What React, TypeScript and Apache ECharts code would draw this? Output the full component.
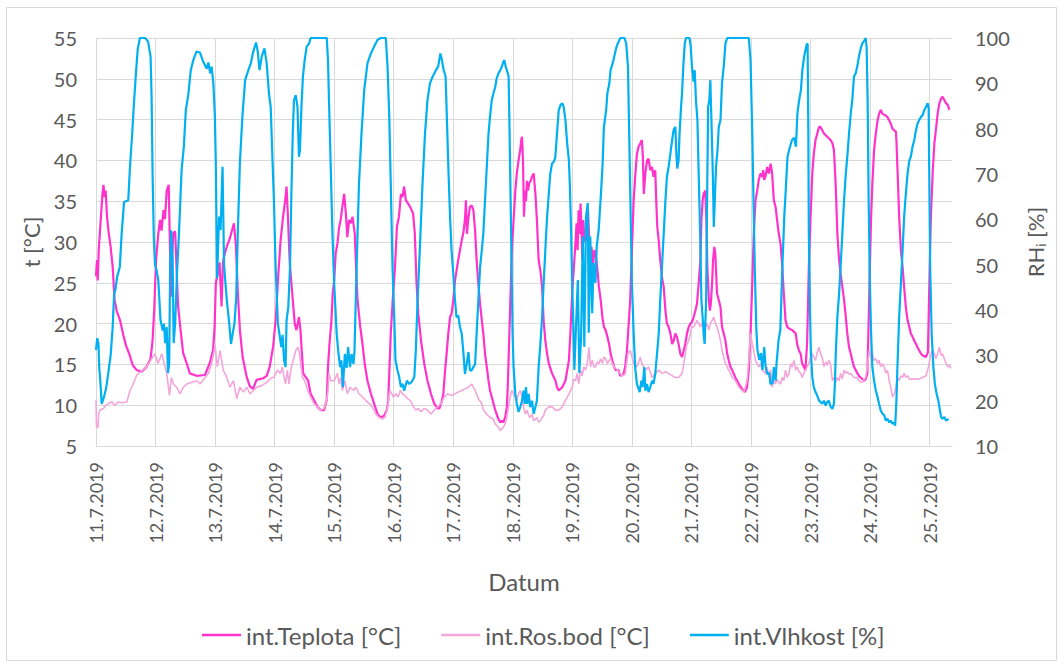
import { useEffect, useRef } from "react";
import * as echarts from "echarts";

// Day labels on the time axis (one per 24 h, starting 11.7.2019 00:00)
const dayLabels = [
  "11.7.2019", "12.7.2019", "13.7.2019", "14.7.2019", "15.7.2019",
  "16.7.2019", "17.7.2019", "18.7.2019", "19.7.2019", "20.7.2019",
  "21.7.2019", "22.7.2019", "23.7.2019", "24.7.2019", "25.7.2019",
];

const seriesNames = ["int.Teplota [°C]", "int.Ros.bod [°C]", "int.Vlhkost [%]"];

// Interior temperature [°C] as [hours since start, value]
const teplota: [number, number][] = [
  [0,25.8],[0.4,27.8],[0.7,25.3],[1.1,29],[1.9,32.7],[2.6,35.8],[3,37],[3.5,35.5],[3.9,36.3],[4.4,33.3],[5,31.4],[5.9,29.4],[6.7,27],[7.5,22.9],[8.3,21.6],[9.7,20.4],[11,18.6],[12.1,17.3],[13.4,16.3],[14.8,14.9],[16.4,14.3],[18.4,14.1],[20.4,14.7],[22,15.7],[22.8,17.9],[23.5,22],
  [24.2,27.8],[25.1,31],[25.8,32.7],[26.4,31.4],[27.2,33.9],[27.8,32.8],[28.5,36.3],[29.3,37],[29.8,29.5],[30.2,23.3],[31.1,31.1],[31.9,31.3],[32.7,25],[33.1,22.1],[34.1,19.2],[35.1,16.4],[36.5,15.2],[37.8,13.9],[40.5,13.6],[43.9,13.7],[45.9,15.2],[47.2,16.8],[47.8,19.5],
  [48.3,25],[49.2,26.2],[49.8,27.5],[50.6,22.1],[51.2,27.6],[52.1,28.8],[52.9,29.6],[53.9,30.4],[55.6,32.3],[56.4,29.5],[57.1,24.1],[58,19.2],[59.1,15.9],[60.7,13.5],[62,12.3],[63.3,12],[64.7,13.1],[66,13.2],[67.4,13.3],[68.8,13.6],[70,14.7],[71.4,17.2],
  [72.5,20.8],[73.4,25.7],[74.4,30.2],[75.4,33.1],[76.3,35.2],[76.8,36.8],[77.3,33.5],[78.1,27.4],[79.2,23.3],[80.1,20],[80.8,19.2],[81.8,20.8],[82.4,19.2],[83.5,13.9],[85.5,13],[86.5,11.4],[87.9,10.6],[89.2,9.8],[90.6,9.4],[91.9,9.4],[93,10.6],[93.5,14.7],[94.1,17.5],[94.9,20.4],[95.4,23.7],
  [96,25.3],[96.6,28.6],[97.3,29.8],[98,31.8],[98.6,32.7],[99.3,34.3],[100,35.9],[100.7,33.5],[101.3,30.6],[102,32.7],[102.7,32.3],[103.4,33.1],[104.3,31],[104.8,26.9],[105.4,22.9],[106.5,19.6],[107.4,17.5],[108.3,15.1],[109.4,13],[110.8,11.4],[112.1,10.2],[113.5,8.9],[114.8,8.5],[116.1,8.7],[117.2,9.4],[117.8,10.6],[118.3,14.7],[118.8,18.8],[119.6,22.9],
  [120.5,26.9],[121.3,31.9],[122.1,33.1],[122.9,35.9],[123.5,35.5],[124.2,36.8],[124.9,35.1],[125.6,34.8],[126.6,34.3],[127.8,33.5],[128.5,31],[129.2,24.9],[129.9,21.2],[131,17.9],[132.3,15.1],[133.6,13],[135,11.4],[136.3,10.2],[137.7,9.6],[138.4,9.6],[139.3,10.4],[140,11.4],[140.6,13.9],[141.3,16.3],[142,18.8],[142.7,20.8],[143.3,21.2],
  [144,22.9],[144.7,25.3],[145.3,26.5],[146,27.8],[146.7,29],[147.4,30.2],[148,31],[148.7,32.7],[149.1,35.1],[149.5,31],[150,32.7],[150.7,34.3],[151.4,34.5],[152.1,33.9],[152.8,31.4],[153.4,27.8],[154.1,24.9],[154.8,22.4],[155.5,20.4],[156.1,18.8],[156.8,16.3],[157.5,14.7],[158.2,13],[158.8,11.8],[159.5,11],[160.2,10.2],[160.9,9.4],[161.5,8.9],[162.2,8.3],[162.9,7.9],[163.6,8.1],[164.2,7.9],[164.9,8.5],[165.6,9.8],[166,12.6],[166.4,16.7],[166.8,20.8],[167.2,24.9],[167.6,29],
  [168.3,32.7],[169,36.3],[169.6,38.4],[170.3,40],[171,41.3],[171.4,42.5],[171.7,42.9],[172.1,40],[172.5,33.1],[172.9,36.3],[173.3,35],[173.7,37.5],[174.1,36.3],[174.6,37.2],[175.2,37.5],[175.7,38],[176.4,38.4],[177.1,35.9],[177.7,32.7],[178.4,27.8],[179.1,26.5],[179.8,24.5],[180.4,20.4],[181.1,17.9],[181.8,16.3],[182.5,15.1],[183.8,13.9],[185.2,13],[185.8,12.2],[186.5,11.8],[187.9,12.2],[189.2,13],[190.6,15.5],[191.2,18.8],[191.9,23.7],
  [192.6,26.9],[193.3,30.2],[193.7,32.3],[194.1,29],[194.5,33.9],[194.9,31],[195.3,34.7],[195.7,31],[196,27.8],[196.4,32.7],[196.9,30],[197.4,31],[197.9,30.2],[198.3,33.9],[198.7,31],[199.3,27.4],[199.7,29.4],[200.3,26.9],[200.8,29],[201.4,28.6],[202,26.9],[202.7,24.5],[203.4,22.9],[204.1,20.8],[204.7,19.6],[205.4,19.2],[206.1,18.4],[206.8,17.5],[207.4,16.3],[208.1,15.5],[208.8,14.7],[209.5,14.3],[210.6,14.3],[211.3,13.6],[212.6,13.8],[213.3,14.7],[214,16.7],[214.7,20],[215.3,22.9],
  [216,29],[216.7,35.1],[217.3,38],[218,40.8],[218.7,41.7],[219.4,42.1],[220,42.5],[220.4,40.5],[220.8,35.9],[221.4,38.4],[222.1,40],[222.7,40.2],[223.4,38.8],[224.1,39.2],[224.7,38],[225.4,38.8],[225.8,35.1],[226.2,31.9],[226.8,30.2],[227.4,27.8],[228.1,25.7],[228.8,24.5],[229.5,21.6],[230.1,20],[230.8,19.6],[231.5,18.8],[232.2,17.5],[232.8,17.9],[233.5,18.8],[234.1,18.4],[234.8,17.5],[235.5,16.3],[236.2,15.9],[236.9,16.7],[237.5,17.5],[238.2,18.8],[238.9,19.6],[239.6,20],
  [240.2,20.2],[240.9,20.8],[241.6,21.6],[242.2,22.4],[242.9,24.9],[243.6,27.8],[244,32.7],[244.5,35.1],[244.9,35.9],[245.6,36.3],[246,32.7],[246.4,26.9],[247,22.9],[247.4,21.6],[247.8,22.4],[248.3,24.9],[248.7,27.8],[249.2,29.4],[249.6,28.6],[250.3,23.7],[251,22.9],[251.7,22],[252.3,19.6],[253,18.8],[253.7,17.9],[254.4,16.3],[255,15.5],[255.7,14.7],[256.4,14.3],[257.7,13.4],[259.1,12.6],[260.4,12],[261.5,11.6],[262.4,12.2],[263.1,14.3],[263.8,18.8],
  [264.5,24.9],[265.1,31],[265.8,35.1],[266.5,36.3],[267.1,37.6],[267.8,38.4],[268.5,38],[268.9,38.8],[269.3,37.6],[269.8,38],[270.5,39.2],[271.2,38.4],[271.9,39.6],[272.5,38.4],[273.2,35.1],[273.9,34.3],[274.5,32.7],[275.2,31],[275.9,29.8],[276.6,26.9],[277.2,23.7],[277.9,20.4],[278.6,19.6],[279.3,19.4],[280.6,19.2],[282,18.8],[282.6,17.5],[283.3,16.7],[284,16.3],[284.6,15.1],[285.3,14.7],[285.9,14.3],[286.6,17.5],[287.3,26.9],
  [288,33.1],[288.7,38.4],[289.3,40.8],[290,42.5],[290.7,43.3],[291.4,44.1],[292,44.1],[292.7,43.7],[293.4,43.3],[294.7,42.9],[296.1,42.5],[296.8,42.1],[297.4,41.3],[298.1,37.2],[298.8,31],[299.5,27.8],[300.1,26.1],[300.8,24.5],[301.5,22.9],[302.2,20.8],[302.8,18.8],[303.5,17.1],[304.2,16.3],[304.8,15.5],[305.5,14.7],[306.2,14.3],[306.9,13.9],[307.5,13.6],[308.2,13.4],[309.6,13],[310.2,13.2],[310.9,13.9],[311.3,18.8],[311.9,26.9],
  [312.4,33.1],[312.9,37.2],[313.6,41.3],[314.3,43.3],[315,44.9],[315.6,45.7],[316.3,46.2],[317,45.7],[318.3,45.5],[319,45.3],[319.7,44.9],[320.3,44.5],[321,43.9],[321.7,43.7],[322.4,43.5],[322.6,42.5],[323,39.2],[323.7,33.1],[324.4,29],[325.1,26.9],[325.7,24.5],[326.4,22],[327.1,20.4],[327.8,19.6],[328.4,18.8],[329.1,18.4],[329.8,17.9],[330.5,17.5],[331.1,17.1],[331.8,16.7],[332.5,16.3],[333.2,16.1],[334.5,15.9],[335.3,16.5],[335.6,20.8],
  [336,26.9],[336.5,33.1],[337.2,38.4],[337.9,42.1],[338.5,43.7],[339.2,45.7],[339.9,47],[340.6,47.6],[341.2,47.8],[341.9,47.4],[342.6,47],[343.3,46.8],[343.9,46.2],
];

// Interior dew point [°C]
const rosBod: [number, number][] = [
  [0,10.6],[0.2,7.3],[0.5,7.8],[0.8,7.2],[1.1,8.9],[1.6,9.4],[3,9.6],[4,10],[5,10.2],[6.3,10.4],[7.7,10],[8.8,10.4],[10.3,10.3],[12.4,10.4],[13.7,11.8],[15,12.6],[16.4,13.7],[18.4,14.2],[20.4,14.7],[22.4,15.7],[23.8,16.3],
  [25,15.1],[26.5,16.3],[27.8,14.7],[28.5,13.9],[29.6,11.2],[30.4,13.4],[31.2,12.6],[32.5,12.2],[33.9,11.4],[35.2,12.2],[36.6,12.6],[38.6,12.8],[40.6,13],[41.9,12.6],[44,13.4],[45.3,13.9],[46.6,15.1],[48,17.3],
  [48.9,14.7],[50,16.7],[51.3,14.3],[52.7,13.4],[54,12.2],[55.4,13],[56.7,10.8],[58,12.2],[59.4,11.6],[60.8,12.2],[62.1,11.4],[63.4,11.8],[64.8,12.2],[66.8,12.4],[68.8,12.8],[70.8,13.4],
  [71.7,13.4],[73.1,14.3],[74.4,13.9],[75.1,14.7],[75.8,13.4],[76.4,12.6],[77.1,14.3],[77.8,12.6],[78.5,14.3],[79.5,15.5],[80.5,16.7],[81.4,17.1],[82,16.3],[82.5,15.1],[83.2,13.4],[84.1,13],[84.9,12.2],[85.9,11.4],[86.8,10.8],[87.9,10.2],[89.2,9.8],[90.6,9.4],[91.9,9.6],[93,10.6],[93.5,11.8],[93.9,13.9],[94.6,13],
  [96,13],[97.3,13.9],[98,12.6],[98.6,13.4],[99.3,11.8],[100.3,13],[101.3,11.4],[102.4,12.2],[103.8,11.8],[104.7,12.2],[106,11.4],[107.4,11],[108.7,10.6],[110.1,10.2],[111.4,9.8],[112.8,8.9],[114.1,8.5],[115.5,8.3],[116.5,8.5],[117.5,9.8],[118.4,11.8],[119.2,11.4],[119.9,11],
  [120.8,11.4],[121.8,11],[122.6,11.8],[123.5,11.4],[124.5,11.2],[125.6,10.8],[126.6,10.6],[128,9.8],[128.9,9.4],[129.9,9.6],[131,9.2],[132.3,9.6],[133.6,9.4],[135,8.9],[136.3,9.4],[137.7,9.8],[139,10.2],[140.4,11],[141.7,11.4],[143.3,11.2],
  [144.7,11.4],[146,11.6],[147.4,11.8],[148.7,12],[150.1,12.2],[151.4,12.6],[152.1,12.2],[152.8,11.8],[154.1,10.8],[155.5,10.2],[156.1,9.4],[157.5,8.9],[158.8,8.5],[160.2,8.3],[160.9,7.7],[162.2,7.3],[162.9,6.9],[163.6,7.1],[164.2,7.3],[164.9,7.7],[165.6,8.5],[166.3,9.8],[166.9,11],[167.6,11.8],
  [168.3,11.4],[169,11],[169.6,10.6],[170.3,11.4],[171,11.8],[171.7,11],[172.3,9.8],[173,8.9],[173.7,9.4],[174.4,8.7],[175,8.5],[175.7,8.9],[176.4,8.1],[177.1,8.3],[177.7,8.5],[178.4,7.9],[179.1,8.1],[179.8,8.5],[180.4,8.7],[181.1,9.4],[182.5,9.8],[183.8,9.8],[185.2,9.4],[186.5,9.4],[187.9,9.8],[189.2,10.6],[190.6,11.4],[191.9,12.2],
  [192.6,13.2],[193.3,13],[193.9,13.9],[194.6,12.6],[195.3,14.3],[195.9,13.6],[196.6,14.7],[197.3,14.3],[198,15.1],[198.7,17.1],[199.3,14.7],[200,15.5],[200.7,14.7],[201.4,14.7],[202,15.3],[202.7,15.1],[203.4,15.7],[204.1,15.1],[204.7,15.9],[205.4,15.7],[206.1,15.1],[206.8,15.5],[207.4,15.7],[208.1,15.1],[208.8,14.7],[209.5,14.5],[210.8,14.1],[212,13.6],[213.3,13.8],[214.4,16.3],[215.3,16.7],
  [216.7,15.1],[218,14.7],[219.4,15.9],[220,15.1],[221.4,14.3],[222.7,14.7],[224.1,13.4],[225.4,13.9],[226.8,14.3],[228.1,13.9],[229.5,14.1],[230.8,13.9],[232.2,13.6],[233.5,13.4],[234.8,13.4],[236.2,13.9],[236.9,15.1],[237.5,16.3],[238.2,17.5],[238.9,17.9],[239.6,18.8],
  [240.2,19.6],[240.9,19.6],[241.6,20],[242.2,20.4],[242.9,20],[243.6,19.6],[244.2,20],[244.9,20.4],[245.6,19.6],[246.3,20],[247,19.2],[247.6,20],[248.3,20.4],[249,20.8],[249.6,20],[250.3,19.6],[251,18.8],[251.7,17.9],[252.3,16.7],[253,15.9],[253.7,15.1],[254.4,14.7],[255,14.3],[255.7,13.9],[256.4,13.4],[257.7,13],[259.1,12.2],[260.4,11.8],[261.1,11.6],[261.7,12.2],[262.4,13],[263.1,15.5],[263.8,18.8],
  [264.5,17.5],[265.1,16.7],[265.8,15.5],[266.5,15.1],[267.1,14.7],[267.8,15.1],[268.5,14.3],[269.8,13.9],[270.5,14.7],[271.2,13.4],[271.9,14.3],[272.5,12.2],[273.2,13],[273.9,12.6],[274.5,13.2],[275.2,12.8],[275.9,12.6],[276.6,13.4],[277.2,13],[277.9,14.3],[278.6,13.4],[279.3,13.9],[280,15.1],[280.6,14.7],[281.3,15.5],[282,14.3],[282.6,14.7],[283.3,14.1],[284,13.9],[284.6,13.4],[285.3,13.9],[286,14.3],[286.6,14.7],[287.3,15.1],
  [288,15.9],[288.7,16.3],[290,15.5],[290.7,16.5],[291.4,17.1],[292,16.3],[292.7,15.9],[293.4,14.7],[294.1,15.3],[294.7,14.9],[295.4,15.5],[296.1,14.9],[296.8,13],[297.4,13.4],[298.1,12.8],[298.8,13.4],[299.5,13],[300.1,13.9],[300.8,13.2],[301.5,14.3],[302.2,13.9],[302.8,14.1],[303.5,13.8],[304.2,13.9],[305.5,13.4],[306.9,13.4],[307.5,13],[308.9,12.8],[310.2,13.4],[310.9,14.7],[311.6,16.7],
  [312.3,15.9],[312.9,16.3],[313.6,15.5],[314.3,15.7],[315,15.1],[315.6,15.5],[316.3,14.7],[317,15.1],[317.7,14.7],[318.3,13.9],[319,14.3],[319.7,13],[320.3,12.2],[321,11],[321.7,11.4],[322.4,12.2],[323,13.4],[323.7,13],[324.4,13.6],[325.1,13.4],[325.7,13.9],[326.4,13.4],[327.1,13.6],[327.8,13.2],[329.1,13.2],[330.5,13.2],[331.8,13.2],[333.2,13.4],[334.5,13.6],[335.2,14.3],
  [335.8,15.1],[336.5,16.3],[337.2,16.7],[337.9,16.3],[338.5,15.7],[339.2,16.3],[339.9,17.1],[340.6,16.1],[341.2,16.3],[341.9,15.7],[342.6,15.1],[343.3,14.7],[343.9,14.9],[344.6,14.5],
];

// Interior relative humidity [%]
const vlhkost: [number, number][] = [
  [0,31.2],[0.5,33.8],[1,32.5],[1.3,27.4],[1.7,24.6],[2.3,19.3],[3.2,20.8],[4,22.5],[5,26.3],[5.9,30],[6.7,36],[7.3,43.6],[7.8,44.4],[8.5,47.3],[9.6,49.5],[10.3,56.5],[11.3,63.8],[13,64.2],[13.7,71.6],[14.6,79],[15.3,85.6],[16.1,92.2],[16.8,97.5],[17.7,100],[19.8,100],[21,99.2],[22,95.9],[22.4,87],[22.8,70.2],[23.3,56],[23.8,50],
  [24.4,48.8],[25.1,46.6],[26,37.8],[26.9,35.5],[27.4,37],[27.9,32.7],[28.5,36.2],[29,26.1],[29.5,28.3],[29.9,50.4],[30.3,57.6],[30.9,50.4],[31.3,32.7],[31.9,37],[32.7,48.8],[33.5,57.6],[34.5,70.9],[35.4,76],[36.2,84.1],[37.2,87.5],[38.2,92.9],[39.2,95.1],[40.5,97],[41.9,96.8],[43.2,94.8],[44.6,93.2],[45.3,94.6],[46,92.2],[46.6,93.7],[47.3,90],[47.9,83],
  [48.3,72],[48.8,47],[49.6,60.6],[50.2,57.6],[51,71.6],[51.6,50],[52.6,42.9],[53.7,37],[54.4,32.5],[55,34.5],[55.8,37],[56.5,42.5],[57.2,58],[58,72.6],[59,82.6],[60.1,90.7],[61.4,92.9],[62.4,94.4],[63.2,96.6],[64.5,99],[65.2,97],[65.9,92.9],[66.8,95.9],[67.9,97.7],[68.8,94.4],[69.7,87.8],[70.4,84.8],[71,75.3],[71.7,64.2],
  [72.4,49.5],[73.3,37],[73.9,34.8],[74.7,31.8],[75.2,34.5],[75.8,28.9],[76.4,27.4],[76.8,37.7],[77.5,40.6],[78.2,49.5],[78.7,64.2],[79.3,78.9],[79.8,86.3],[80.5,87.4],[81.2,84.8],[81.8,73.8],[82.2,75.3],[82.8,84.8],[83.4,91.5],[84.1,95.1],[84.9,98.1],[85.9,98.8],[86.5,100],[93,100],[93.5,95.1],[93.9,86.3],[94.6,71.6],[95.3,56.8],
  [96,45.8],[97,34.8],[97.6,31.1],[98.4,27.4],[98.9,28.9],[99.5,23],[100.3,30.3],[101,27.2],[101.6,31.8],[102.4,27.4],[103,30.3],[103.8,28.1],[104.2,31.1],[104.7,42.1],[105.4,56.8],[106,67.9],[107,78.9],[108.1,88.5],[109.4,94.4],[110.8,96.6],[112.1,98.1],[113.5,99.6],[114.8,100],[116.8,100],[117.5,93.7],[118.2,82.6],[118.8,67.9],[119.5,49.5],
  [120.2,38.4],[120.7,28.9],[121.5,26.7],[122.2,25.2],[122.9,23],[123.6,23.7],[124.2,22.2],[125.3,24.4],[126.2,23.7],[127.2,24.1],[128.3,25.2],[128.9,31.1],[129.6,42.1],[130.5,53.2],[131.6,67.9],[132.6,78.9],[133.6,86.3],[134.6,90],[135.7,91.5],[137,92.9],[137.9,93.7],[138.8,96.6],[139.3,95.5],[140.1,93],[140.9,91.5],[141.4,82.6],[142,71.6],[142.7,60.5],[143.3,53.2],
  [144,48],[144.7,42.1],[145.3,38.4],[146,38.8],[146.7,36.2],[147.4,34.8],[148,31.1],[148.7,25.9],[149.4,28.1],[150.1,30.7],[150.7,26.7],[151.4,26.7],[152.1,27.4],[152.8,28.1],[153.4,34.8],[154.1,42.1],[154.8,49.5],[155.5,53.2],[156.1,56.8],[156.8,64.2],[157.5,71.6],[158.2,78.9],[158.8,82.6],[159.5,86.3],[160.2,87.8],[160.9,89.2],[161.5,91.1],[162.2,92.2],[162.9,92.9],[163.6,93.7],[164.2,94.8],[164.6,95.1],[165.1,93.7],[165.6,92.9],[166.3,91.5],[166.7,78.9],[167.1,64.2],[167.5,49.5],[167.9,34.8],
  [168.3,27.4],[169,21.5],[169.6,19.3],[170.3,17.5],[171,18.6],[171.7,20],[172.3,22.2],[172.8,19.3],[173.3,23],[173.8,19.3],[174.4,21.5],[175,18.6],[175.7,20],[176.4,17.1],[177.1,18.6],[177.7,20],[178.4,27.4],[179.1,32.5],[179.8,38.4],[180.4,45.8],[181.1,53.2],[181.8,60.5],[182.5,65.7],[183.1,70.1],[183.8,72.3],[184.5,72.7],[185.1,73.6],[185.8,78.9],[186.5,84.1],[187.2,85.2],[187.9,85.6],[188.5,84.8],[189.2,81.9],[189.9,76.7],[190.6,73],[191,67.2],[191.5,56.8],[191.9,45.8],
  [192.3,38.4],[192.8,26.8],[193.5,37],[194.2,46.6],[194.8,26.1],[195.5,34],[196.2,56.2],[196.8,31.9],[197.5,60.6],[198.2,63.6],[198.6,35],[199.2,56.2],[200,39.3],[200.5,50.4],[201.3,46],[201.8,54],[202.6,57.6],[203.6,66.5],[204.2,72.4],[204.7,80.4],[205.6,84],[206.1,87.8],[206.9,90],[207.4,92.9],[208.3,94.5],[209.6,97.7],[210.3,98.8],[211.3,100],[213,100],[213.7,98.8],[214.4,93.7],[214.9,78.9],[215.5,60.5],
  [216,45.8],[216.7,34.8],[217.3,27.4],[218,23.7],[218.7,22.6],[219.1,21.9],[219.8,24.4],[220.3,23],[221,27.4],[221.4,22.2],[222.1,23.7],[222.7,21.9],[223.4,23],[224.1,24.4],[224.7,23.7],[225.4,25.9],[226.1,30.3],[226.8,34.8],[227.4,42.1],[228.1,49.5],[228.8,56.8],[229.5,64.2],[230.1,69.4],[230.8,71.6],[231.5,74.5],[232.2,77.5],[232.8,79.7],[233.5,80.4],[233.9,74.5],[234.3,71.2],[234.8,73],[235.2,78.9],[235.8,84.8],[236.2,87.8],[236.7,93.7],[237.3,98.8],[237.8,100],[239.2,100],[239.7,98.1],
  [240.2,93.7],[240.8,90.4],[241.3,92.9],[241.8,86.3],[242.4,81.9],[242.9,70.1],[243.5,56.8],[244,42.1],[244.5,38.4],[244.9,34.8],[245.3,32.5],[245.9,42],[246.3,64.2],[246.7,84.8],[247.2,86.3],[247.6,90.7],[248,82.6],[248.6,70.1],[249,58.3],[249.4,64.2],[249.9,71.6],[250.5,75.3],[251,80.4],[251.7,81.9],[252.3,90],[253,93.7],[253.7,98.8],[254.4,100],[263.1,100],[263.8,95.1],
  [264.5,78.9],[265,64.2],[265.5,49.5],[266.1,36.2],[266.6,31.2],[267.3,29],[268,30.5],[268.6,26.8],[269.3,31.8],[269.9,27.4],[270.5,25.9],[271.4,26.1],[271.8,23.7],[272.7,23.9],[273.2,27.4],[273.9,24.4],[274.3,28.3],[275.1,33.4],[275.8,35.6],[276.7,50.4],[277.4,60.6],[278,66.5],[278.7,73.8],[279.7,76],[280.5,77.5],[281.4,78],[282.1,76],[282.7,83.4],[283.4,86.3],[284.1,88.5],[284.7,92.9],[285.4,95.9],[286.4,98.5],[286.8,98.8],[287.1,79],[287.3,56.8],[287.7,42.1],
  [288.1,31.1],[288.7,25.2],[289.3,23],[290,21.9],[290.7,21.1],[291.4,20],[292,19.7],[292.7,19.3],[293.4,20],[294.1,18.9],[294.7,19.7],[295.4,20],[296.1,18.6],[296.8,18.2],[297.4,19.3],[297.8,23.7],[298.2,31.1],[298.8,38.4],[299.5,43.6],[300.1,49.5],[300.8,56.8],[301.5,64.2],[302.2,70.1],[302.8,73.8],[303.5,78.9],[304.2,83.4],[304.8,86.3],[305.5,91.5],[306.2,92.2],[306.9,94],[307.5,95.9],[308.2,97.7],[308.9,98.8],[309.6,99.4],[310.2,100],[310.6,98],[311,86.3],[311.4,64.2],[311.9,45.8],
  [312.4,34.8],[312.9,27.4],[313.6,24.4],[314.3,22.2],[315,20.8],[315.6,19.3],[316.3,17.8],[317,17.1],[317.7,16.8],[318.3,15.6],[319,16],[319.7,15.2],[320.3,15.6],[321,14.9],[321.7,15.2],[322.1,14.5],[322.6,20],[323,27.4],[323.7,38.4],[324.4,45.8],[325.1,53.2],[325.7,60.5],[326.4,65.7],[327.1,70.1],[327.8,73],[328.4,73.8],[329.1,76],[329.8,77.5],[330.5,79.7],[331.1,81.1],[331.8,81.9],[332.5,82.6],[333.2,83],[333.8,84.1],[334.5,84.8],[335.2,85.6],[335.6,84.5],[335.8,71.6],
  [336.2,49.5],[336.8,34.8],[337.5,27.4],[338.1,23.7],[338.8,21.5],[339.5,20],[339.9,18.6],[340.6,16.4],[341.2,16],[341.9,16.4],[342.6,15.6],[343.6,16],
];

const FONT = "Lato, 'Noto Sans', sans-serif";
const TEXT = "#595959";
const GRID = "#d9d9d9";
const COLORS = ["#ff33cc", "#f2a6da", "#00b0f0"];

export default function App() {
  const ref = useRef<HTMLDivElement>(null);

  useEffect(() => {
    const chart = echarts.init(ref.current!, null, { renderer: "svg" });

    chart.setOption({
      animation: false,
      backgroundColor: "#ffffff",
      textStyle: { fontFamily: FONT, color: TEXT },
      graphic: [
        {
          type: "rect",
          shape: { x: 6.5, y: 7.5, width: 1050, height: 653 },
          style: { fill: "none", stroke: GRID, lineWidth: 1 },
          silent: true,
        },
      ],
      grid: { left: 96, right: 112, top: 38, bottom: 222 },
      legend: {
        left: 197,
        top: 618,
        icon: "rect",
        itemWidth: 39,
        itemHeight: 2.5,
        itemGap: 40,
        textStyle: { fontFamily: FONT, fontSize: 24, color: TEXT, padding: [0, 0, 0, 0] },
        data: seriesNames,
      },
      xAxis: {
        type: "value",
        min: 0,
        max: 345,
        interval: 24,
        name: "Datum",
        nameLocation: "middle",
        nameGap: 123,
        nameTextStyle: { fontFamily: FONT, fontSize: 24, color: TEXT },
        axisLine: { show: true, lineStyle: { color: GRID, width: 1 } },
        axisTick: { show: false },
        splitLine: { show: true, showMaxLine: false, lineStyle: { color: GRID, width: 1 } },
        axisLabel: {
          rotate: 90,
          margin: 16,
          fontFamily: FONT,
          fontSize: 18,
          color: TEXT,
          showMaxLabel: false,
          formatter: (v: number) => {
            const i = Math.round(v / 24);
            return Math.abs(v - i * 24) < 1e-6 && dayLabels[i] ? dayLabels[i] : "";
          },
        },
      },
      yAxis: [
        {
          type: "value",
          min: 5,
          max: 55,
          interval: 5,
          name: "t [°C]",
          nameLocation: "middle",
          nameRotate: 90,
          nameGap: 52,
          nameTextStyle: { fontFamily: FONT, fontSize: 22, color: TEXT },
          axisLine: { show: false },
          axisTick: { show: false },
          splitLine: { show: true, lineStyle: { color: GRID, width: 1 } },
          axisLabel: { fontFamily: FONT, fontSize: 20, color: TEXT, margin: 19 },
        },
        {
          type: "value",
          min: 10,
          max: 100,
          interval: 10,
          name: "RH{sub|i} [%]",
          nameLocation: "middle",
          nameRotate: 90,
          nameGap: 72,
          nameTextStyle: {
            fontFamily: FONT,
            fontSize: 22,
            color: TEXT,
            rich: { sub: { fontFamily: FONT, fontSize: 13, color: TEXT, verticalAlign: "bottom", padding: [10, 0, 0, 0] } },
          },
          axisLine: { show: false },
          axisTick: { show: false },
          splitLine: { show: false },
          axisLabel: { fontFamily: FONT, fontSize: 20, color: TEXT, margin: 23 },
        },
      ],
      series: [
        {
          name: seriesNames[0],
          type: "line",
          yAxisIndex: 0,
          data: teplota,
          symbol: "none",
          lineStyle: { color: COLORS[0], width: 2.2 },
          itemStyle: { color: COLORS[0] },
        },
        {
          name: seriesNames[1],
          type: "line",
          yAxisIndex: 0,
          data: rosBod,
          symbol: "none",
          lineStyle: { color: COLORS[1], width: 1.6 },
          itemStyle: { color: COLORS[1] },
        },
        {
          name: seriesNames[2],
          type: "line",
          yAxisIndex: 1,
          data: vlhkost,
          symbol: "none",
          lineStyle: { color: COLORS[2], width: 2.2 },
          itemStyle: { color: COLORS[2] },
        },
      ],
    });
    return () => chart.dispose();
  }, []);

  return (
    <div
      ref={ref}
      style={{ position: "fixed", left: 0, top: 0, width: 1064, height: 668, background: "#fff" }}
    />
  );
}
